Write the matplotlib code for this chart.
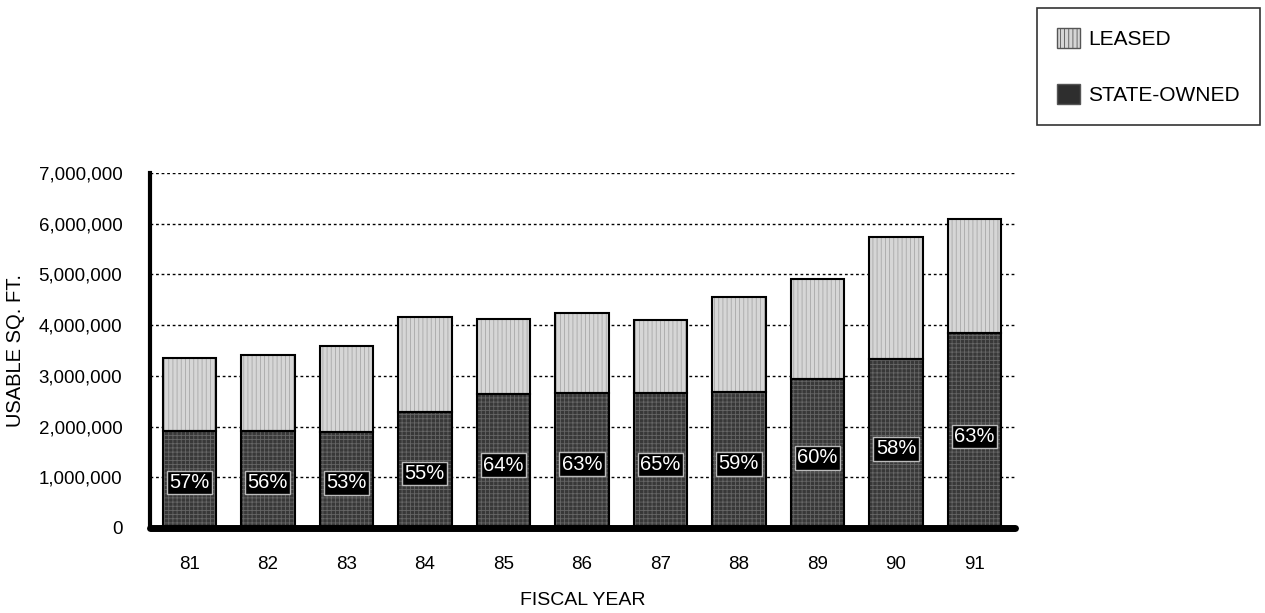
import matplotlib.pyplot as plt
import matplotlib.patches as mpatches
import numpy as np
from matplotlib.ticker import FuncFormatter

plt.rcParams['font.family'] = ['Liberation Sans', 'DejaVu Sans']

# usable square feet by fiscal year
years = ['81', '82', '83', '84', '85', '86', '87', '88', '89', '90', '91']
total_sqft = [3350000, 3410000, 3590000, 4160000, 4120000, 4240000,
              4100000, 4560000, 4910000, 5740000, 6090000]
state_pct = [57, 56, 53, 55, 64, 63, 65, 59, 60, 58, 63]

total = np.array(total_sqft, dtype=float)
state = total * np.array(state_pct) / 100.0
leased = total - state
x = np.arange(len(years))
w = 0.68

fig = plt.figure(figsize=(12.65, 6.13), dpi=100)
ax = fig.add_axes([0.1186, 0.1387, 0.684, 0.579])

# fills with a fine texture, then the outlines on top
plt.rcParams['hatch.linewidth'] = 0.6
ax.bar(x, state, w, color='#383838', edgecolor='#666666', hatch='++++', lw=0, zorder=2)
ax.bar(x, leased, w, bottom=state, color='#d6d6d6', edgecolor='#a8a8a8', hatch='||||', lw=0, zorder=2)
ax.bar(x, state, w, fill=False, edgecolor='black', lw=1.5, zorder=3)
ax.bar(x, leased, w, bottom=state, fill=False, edgecolor='black', lw=1.5, zorder=3)

for xi, s, p in zip(x, state, state_pct):
    ax.text(xi, s * 0.47, '%d%%' % p, ha='center', va='center', color='white',
            fontsize=14.5, zorder=4,
            bbox=dict(boxstyle='square,pad=0.12', fc='black', ec='#bbbbbb', lw=1.0))

ax.set_xlim(-0.5, 10.52)
ax.set_ylim(0, 7000000)
ax.set_yticks(np.arange(0, 7000001, 1000000))
ax.yaxis.set_major_formatter(FuncFormatter(lambda v, pos: '{:,.0f}'.format(v)))
ax.set_xticks(x)
ax.set_xticklabels(years)
ax.tick_params(axis='both', length=0, labelsize=13.5)
ax.tick_params(axis='y', pad=20)
ax.tick_params(axis='x', pad=20)

ax.yaxis.grid(True, linestyle=(0, (2, 2)), color='black', lw=1.0)
ax.set_axisbelow(True)

for side in ['top', 'right']:
    ax.spines[side].set_visible(False)
ax.spines['left'].set_linewidth(3)
ax.spines['bottom'].set_linewidth(5)
ax.spines['bottom'].set_capstyle('round')

ax.set_xlabel('FISCAL YEAR', fontsize=14, labelpad=14)
ax.set_ylabel('USABLE SQ. FT.', fontsize=14.5, labelpad=10)

handles = [mpatches.Patch(facecolor='#d6d6d6', edgecolor='#555555', hatch='||||', label='LEASED'),
           mpatches.Patch(facecolor='#2e2e2e', edgecolor='#555555', label='STATE-OWNED')]
leg = fig.legend(handles=handles, loc='upper left', bbox_to_anchor=(0.8198, 0.987),
                 fontsize=15, frameon=True, fancybox=False, edgecolor='black',
                 handlelength=1.1, handleheight=1.1, labelspacing=1.7,
                 borderpad=0.95, handletextpad=0.4, borderaxespad=0)
leg.get_frame().set_linewidth(1.2)

fig.savefig('out.png', dpi=100)
